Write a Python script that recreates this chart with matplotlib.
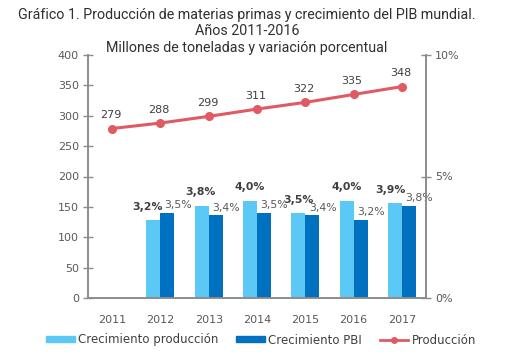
import matplotlib
matplotlib.use("Agg")
import matplotlib.pyplot as plt
import numpy as np
from matplotlib.patches import Patch
from matplotlib.lines import Line2D

years = ["2011", "2012", "2013", "2014", "2015", "2016", "2017"]
produccion = [279, 288, 299, 311, 322, 335, 348]
crec_prod = [None, 3.2, 3.8, 4.0, 3.5, 4.0, 3.9]
crec_pbi = [None, 3.5, 3.4, 3.5, 3.4, 3.2, 3.8]
left_ticks = [0, 50, 100, 150, 200, 250, 300, 350, 400]
right_ticks = [0, 5, 10]

# small horizontal nudges (points) for the bold labels, as in the reference
light_label_dx = [0, -4, -1, 0, 0, 0, -3]

c_light = "#5BC8F5"
c_dark = "#0070C0"
c_line = "#E05A63"
c_axis = "#8C8C8C"
c_text = "#595959"

fig = plt.figure(figsize=(5.06, 3.63), dpi=100)
ax = fig.add_axes([88/506, 1-298/363, (426-88)/506, (298-55)/363])
ax2 = ax.twinx()
ax.set_zorder(ax2.get_zorder() + 1)
ax.patch.set_visible(False)

x = np.arange(len(years))
w = 0.29
for i in range(len(years)):
    if crec_prod[i] is not None:
        ax2.bar(x[i] - w/2, crec_prod[i], width=w, color=c_light, zorder=2)
        ax2.annotate(f"{crec_prod[i]:.1f}%".replace(".", ","), (x[i] - w/2, crec_prod[i]),
                     xytext=(light_label_dx[i], 6), textcoords="offset points",
                     ha="center", va="bottom",
                     fontsize=7.8, fontweight="bold", color="#404040")
    if crec_pbi[i] is not None:
        ax2.bar(x[i] + w/2, crec_pbi[i], width=w, color=c_dark, zorder=2)
        ax2.annotate(f"{crec_pbi[i]:.1f}%".replace(".", ","), (x[i] + w/2, crec_pbi[i]),
                     xytext=(7.5, 2), textcoords="offset points", ha="center", va="bottom",
                     fontsize=7.8, color=c_text)

ax.plot(x, produccion, color=c_line, lw=2.2, marker="o", ms=5.5, zorder=5)
for xi, v in zip(x, produccion):
    ax.annotate(str(v), (xi, v), xytext=(-1, 6), textcoords="offset points",
                ha="center", va="bottom", fontsize=8, color="#404040")

ax.set_xlim(-0.5, len(years) - 0.5)
ax.set_ylim(0, 400)
ax2.set_ylim(0, 10)
ax.set_yticks(left_ticks)
ax2.set_yticks(right_ticks)
ax2.set_yticklabels([f"{t}%" for t in right_ticks])
ax.set_xticks(x)
ax.set_xticklabels(years)

for a in (ax, ax2):
    for s in a.spines.values():
        s.set_color(c_axis)
        s.set_linewidth(1.2)
    a.spines["top"].set_visible(False)
ax.tick_params(axis="y", direction="inout", length=7, width=1, color=c_axis,
               labelsize=8, labelcolor=c_text, pad=3)
ax2.tick_params(axis="y", direction="inout", length=7, width=1, color=c_axis,
                labelsize=8, labelcolor=c_text, pad=3)
ax.tick_params(axis="x", length=0, labelsize=8, labelcolor=c_text, pad=12)

tx = 247/506
fig.text(tx, 1-15/363, "Gráfico 1. Producción de materias primas y crecimiento del PIB mundial.",
         ha="center", va="center", fontsize=10.3, family="Roboto", color="#303030")
fig.text(tx, 1-31/363, "Años 2011-2016", ha="center", va="center", fontsize=10.3,
         family="Roboto", color="#303030")
fig.text(tx, 1-48/363, "Millones de toneladas y variación porcentual", ha="center",
         va="center", fontsize=10.3, family="Roboto", color="#303030")

handles = [Patch(color=c_light, label="Crecimiento producción"),
           Patch(color=c_dark, label="Crecimiento PBI"),
           Line2D([], [], color=c_line, lw=2, marker="o", ms=4, label="Producción")]
fig.legend(handles=handles, loc="center", bbox_to_anchor=(261/506, 1-340/363), ncol=3,
           frameon=False, fontsize=8.5, labelcolor="#404040", handlelength=2.4,
           handleheight=0.4, columnspacing=1.5, handletextpad=0.3)

fig.savefig("out.png", dpi=100)
